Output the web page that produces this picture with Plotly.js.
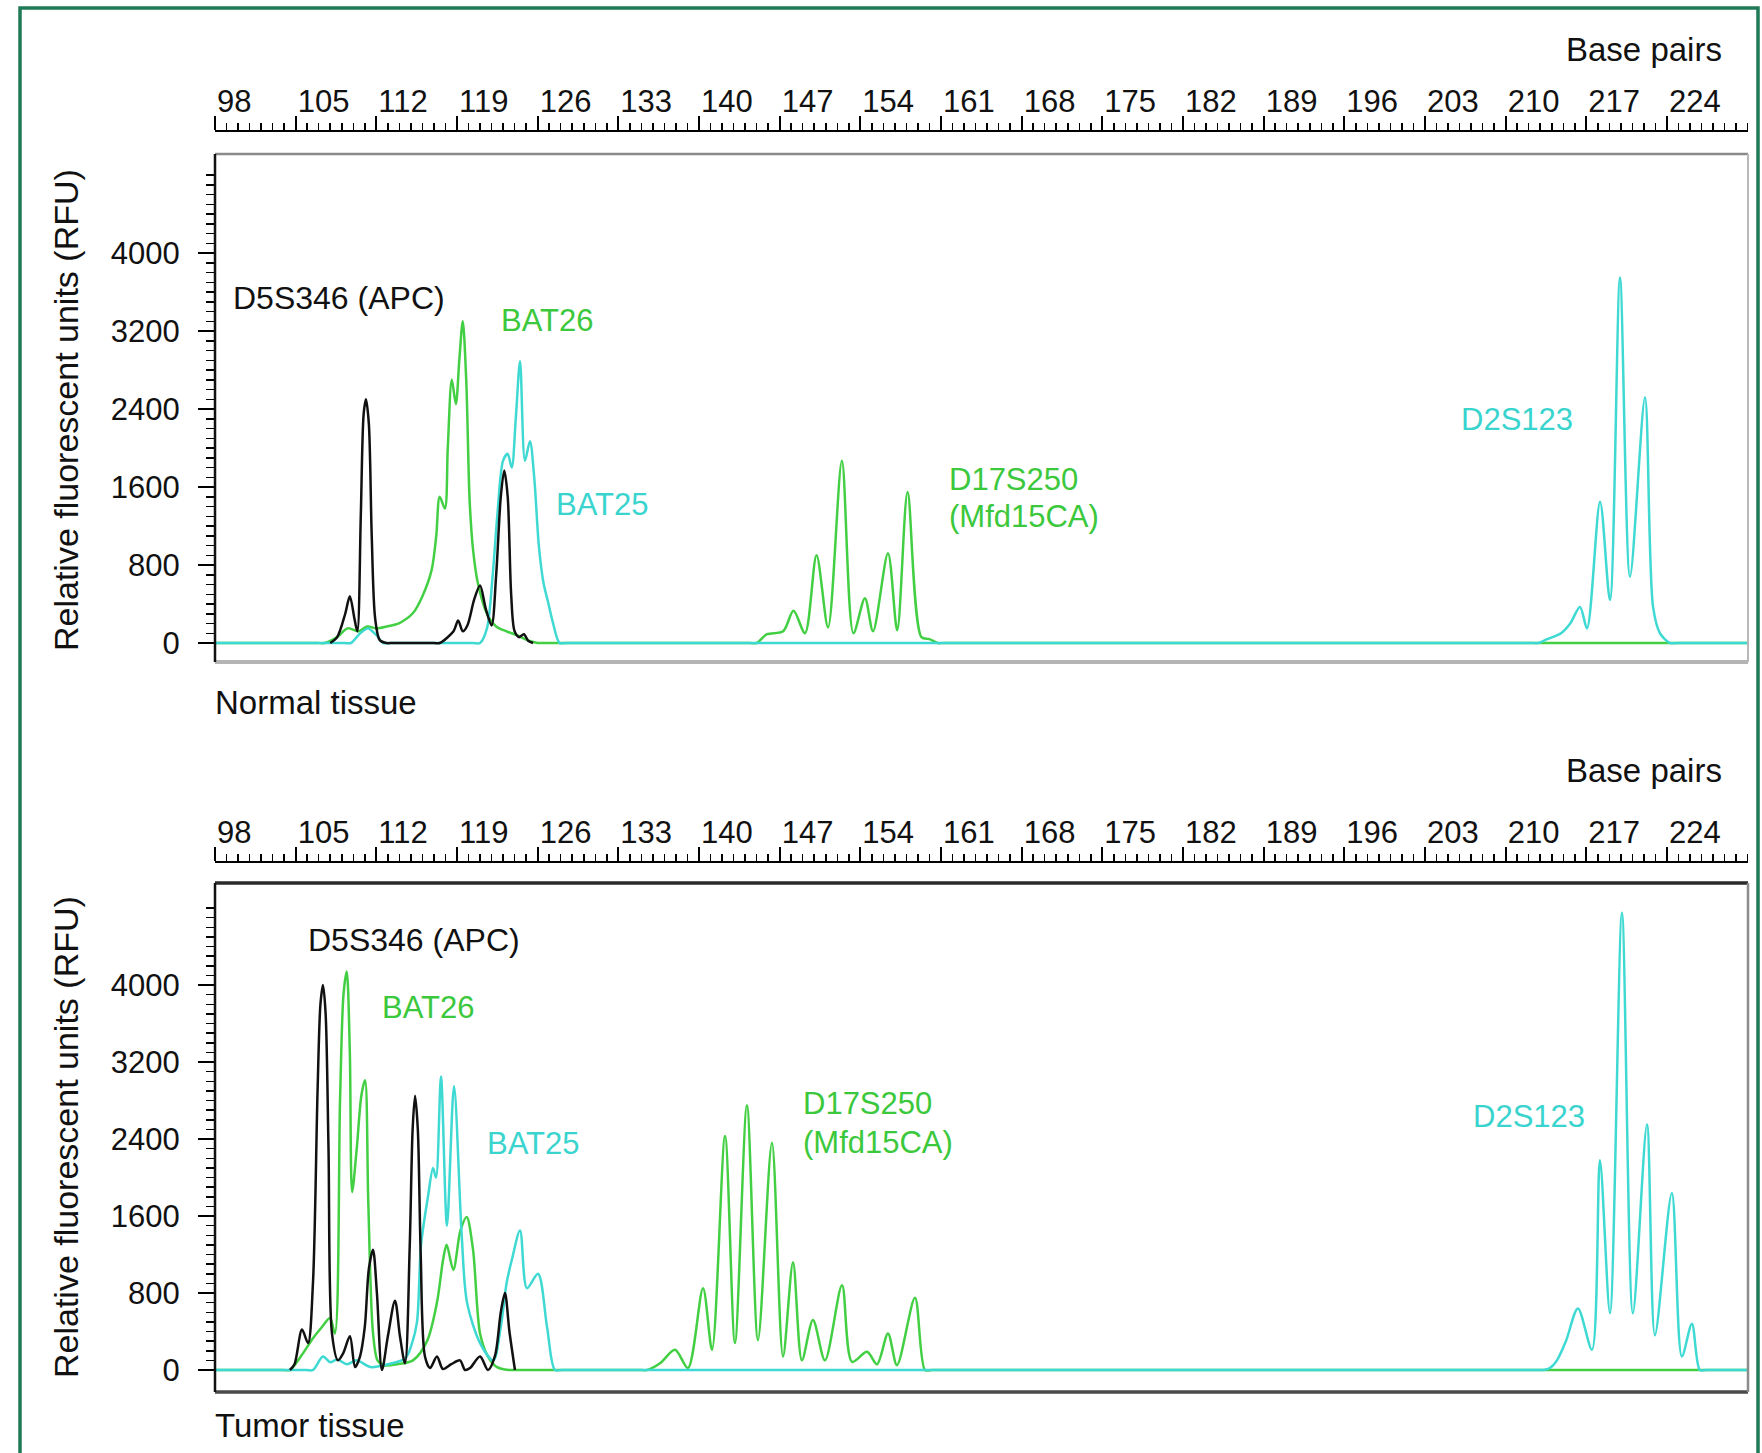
<!DOCTYPE html>
<html>
<head>
<meta charset="utf-8">
<script src="https://cdn.plot.ly/plotly-3.0.1.min.js"></script>
<style>html,body{margin:0;padding:0;background:#fff;}#chart{width:1762px;height:1453px;}</style>
</head>
<body>
<div id="chart"></div>
<script>
// ---------------- DATA (base pairs vs relative fluorescent units) ----------------
const BP_TICKS = [98,105,112,119,126,133,140,147,154,161,168,175,182,189,196,203,210,217,224];
const RFU_TICKS = [0,800,1600,2400,3200,4000,4800];
const RFU_LABELS = ['0','800','1600','2400','3200','4000',''];

// Normal tissue
const normal_black_x = [108.0,108.6,109.3,109.7,110.1,110.35,110.65,110.9,111.1,111.35,111.6,111.9,112.3,112.9,113.4,117.0,117.5,118.7,119.1,119.5,119.9,120.5,121.0,121.5,122.0,122.4,122.8,123.1,123.4,123.7,124.0,124.4,124.8,125.2,125.6];
const normal_black_y = [0,60,300,480,250,120,1300,2350,2500,2250,1100,250,30,0,0,0,0,120,230,120,180,450,590,350,180,700,1500,1770,1500,500,120,60,90,20,0];

const normal_green_x = [98,106.9,107.5,108.6,109.5,110.5,111.2,112.0,112.9,114.0,115.2,116.0,116.8,117.2,117.5,117.95,118.2,118.55,118.9,119.2,119.5,119.8,120.1,120.4,120.8,121.6,122.4,123.3,124.2,125.1,126.0,126.6,144.4,145.0,145.9,147.3,148.2,149.2,150.2,151.2,152.4,153.4,154.4,155.1,156.4,157.2,158.1,159.3,160.0,160.7,161.3,231];
const normal_green_y = [0,0,0,60,150,120,170,150,170,205,310,480,750,1100,1500,1380,2000,2700,2450,2900,3300,2700,1450,950,620,300,170,120,80,30,0,0,0,0,90,120,330,100,900,160,1870,100,460,120,920,130,1550,60,40,0,0,0];

const normal_cyan_x = [98,109.2,109.8,110.6,111.3,112.0,112.6,113.2,120.4,121.0,121.6,122.1,122.5,123.0,123.4,123.75,124.1,124.47,124.9,125.33,125.7,126.1,126.5,126.9,127.3,127.9,128.5,212.2,212.8,213.6,214.8,215.6,216.45,217.06,218.19,219.05,219.92,220.79,222.09,222.79,223.39,224.26,224.9,231];
const normal_cyan_y = [0,0,0,100,150,80,0,0,0,0,150,700,1310,1870,1940,1800,2300,2890,1870,2070,1700,1000,620,420,220,0,0,0,0,40,100,200,370,150,1450,440,3750,680,2520,370,100,0,0,0];

// Tumor tissue
const tumor_black_x = [104.5,104.9,105.55,106.07,106.5,106.9,107.15,107.37,107.6,107.85,108.15,108.67,109.11,109.71,110.15,110.58,111.0,111.35,111.71,112.05,112.49,113.0,113.62,114.05,114.49,114.9,115.15,115.36,115.6,115.85,116.22,116.66,117.26,117.78,118.5,119.26,119.7,120.13,121.0,121.69,122.3,122.8,123.16,123.55,124.03];
const tumor_black_y = [0,60,420,280,900,2900,3800,4000,3700,2300,380,100,170,350,30,140,450,1050,1250,800,0,350,720,350,70,1300,2500,2850,2500,1200,140,20,140,10,60,100,0,20,140,0,150,600,800,400,0];

const tumor_green_x = [98,103.9,104.5,105.5,106.5,107.3,107.98,108.4,108.85,109.15,109.43,109.7,109.9,110.3,110.7,111.02,111.3,111.7,112.1,112.6,113.8,115.18,116.4,117.26,117.8,118.1,118.68,119.3,119.84,120.39,121.0,121.69,122.47,123.5,124.1,134.2,134.8,135.49,136.62,137.92,139.04,140.35,141.13,142.26,143.12,144.16,145.12,146.33,147.29,148.16,148.93,149.89,150.93,152.41,153.28,154.58,155.45,156.4,157.18,158.74,159.61,160.2,231];
const tumor_green_y = [0,0,0,150,330,450,540,380,2800,3900,4140,3300,1850,2300,2850,3010,1750,400,100,50,60,100,300,700,1150,1300,1040,1450,1590,1250,380,140,30,0,0,0,0,0,70,210,20,850,210,2430,280,2750,310,2360,140,1120,100,520,100,880,85,190,60,380,50,750,0,0,0];

const tumor_cyan_x = [98,105.9,106.5,107.37,108.0,108.6,109.45,110.3,111.5,113.0,114.5,115.1,115.53,115.88,116.48,116.92,117.18,117.61,118.13,118.74,119.4,119.87,121.0,122.15,122.8,123.3,123.77,124.47,125.07,126.03,126.81,127.5,128.1,212.7,213.3,213.84,214.45,215.23,216.27,217.49,218.18,219.05,220.09,221.04,222.26,222.95,224.42,225.29,226.16,226.85,227.4,231];
const tumor_cyan_y = [0,0,0,140,80,110,60,100,30,60,120,280,500,1300,1800,2100,2000,3050,1500,2950,1420,700,280,100,450,900,1150,1450,850,1000,450,0,0,0,0,20,100,300,640,210,2180,590,4750,590,2550,360,1840,140,480,0,0,0];

// ---------------- LAYOUT HELPERS ----------------
const W = 1762, H = 1453;
const px = X => X / W;
const py = Y => 1 - Y / H;
const FONT = 'Liberation Sans, Arial, Helvetica, sans-serif';
const BLACK = '#111111', GREEN = '#43cf43', CYAN = '#3fd9d3';
const GREEN_TXT = '#3cc83c', CYAN_TXT = '#3ad4cf';

// panel geometry (pixels)
const P = [
  {ruler:132, boxTop:154, boxBot:662, zero:643, four:253, xa:'x', ya:'y'},
  {ruler:863, boxTop:883, boxBot:1392, zero:1370, four:985, xa:'x2', ya:'y2'}
];
const XL = 215, XR = 1748, BPPX = (1667 - 215) / 126; // px per bp
const xRange = [98, 98 + (XR - XL) / BPPX];
function yRange(p){ const s = 4000 / (p.zero - p.four); return [-(p.boxBot - p.zero) * s, (p.zero - p.ruler) * s]; }

const minorY = [];
for (let v = 0; v <= 4800; v += 100) minorY.push(v);

function xaxisCfg(p){
  return {
    domain:[px(XL), px(XR)], range:xRange, side:'top', anchor:p.ya,
    showline:true, linecolor:'#000', linewidth:2, mirror:false,
    ticks:'outside', ticklen:14, tickwidth:2, tickcolor:'#000',
    tickmode:'array', tickvals:BP_TICKS, ticktext:BP_TICKS.map(String),
    ticklabelposition:'outside right', ticklabelstandoff:6,
    tickfont:{family:FONT, size:31, color:'#111'},
    minor:{tickmode:'linear', tick0:98, dtick:1, ticks:'outside', ticklen:7, tickwidth:1.5, tickcolor:'#000', showgrid:false},
    showgrid:false, zeroline:false, fixedrange:true
  };
}
function yaxisCfg(p){
  return {
    domain:[py(p.boxBot), py(p.ruler)], range:yRange(p), anchor:p.xa,
    showline:false, ticks:'outside', ticklen:16, tickwidth:2, tickcolor:'#000',
    tickmode:'array', tickvals:RFU_TICKS, ticktext:RFU_LABELS, ticklabelstandoff:12,
    tickfont:{family:FONT, size:31, color:'#111'},
    minor:{tickmode:'array', tickvals:minorY, ticks:'outside', ticklen:8, tickwidth:1.5, tickcolor:'#000', showgrid:false},
    showgrid:false, zeroline:false, fixedrange:true
  };
}

function tr(x, y, color, p){
  return {x:x, y:y, type:'scatter', mode:'lines', xaxis:p.xa, yaxis:p.ya,
          line:{color:color, width:2.5, shape:'spline', smoothing:0.85}, hoverinfo:'skip'};
}

const data = [
  tr(normal_green_x, normal_green_y, GREEN, P[0]),
  tr(normal_cyan_x, normal_cyan_y, CYAN, P[0]),
  tr(normal_black_x, normal_black_y, BLACK, P[0]),
  tr(tumor_green_x, tumor_green_y, GREEN, P[1]),
  tr(tumor_cyan_x, tumor_cyan_y, CYAN, P[1]),
  tr(tumor_black_x, tumor_black_y, BLACK, P[1])
];

function hline(Y, x0, x1, color, w){ return {type:'line', xref:'paper', yref:'paper', x0:px(x0), x1:px(x1), y0:py(Y), y1:py(Y), line:{color:color, width:w}}; }
function vline(X, y0, y1, color, w){ return {type:'line', xref:'paper', yref:'paper', x0:px(X), x1:px(X), y0:py(y0), y1:py(y1), line:{color:color, width:w}}; }

const shapes = [
  // outer green frame (bottom edge lies below the picture)
  {type:'rect', xref:'paper', yref:'paper', x0:px(20), x1:px(1758), y0:py(1470), y1:py(8), line:{color:'#1f7a57', width:3.5}},
  // top panel box
  hline(154, XL, XR, '#8a8a8a', 2.5),
  hline(662, XL, XR, '#b4b4b4', 4),
  vline(XR, 154, 662, '#b8b8b8', 2),
  vline(XL, 154, 662, '#111', 2.5),
  // bottom panel box
  hline(883, XL, XR, '#2a2a2a', 3.5),
  hline(1392, XL, XR, '#4a4a4a', 3.5),
  vline(XR, 883, 1392, '#8c8c8c', 2.5),
  vline(XL, 883, 1392, '#111', 2.5)
];

function ann(text, X, Y, color, size, anchor, angle){
  return {text:text, xref:'paper', yref:'paper', x:px(X), y:py(Y), xanchor:anchor||'left', yanchor:'middle',
          showarrow:false, textangle:angle||0, font:{family:FONT, size:size, color:color}};
}

const annotations = [
  ann('Base pairs', 1724, 50, '#111', 33, 'right'),
  ann('Relative fluorescent units (RFU)', 66, 410, '#111', 34, 'center', -90),
  ann('D5S346 (APC)', 231, 298, '#111', 32),
  ann('BAT26', 499, 321, GREEN_TXT, 31),
  ann('BAT25', 554, 505, CYAN_TXT, 31),
  ann('D17S250', 947, 479, GREEN_TXT, 31),
  ann('(Mfd15CA)', 947, 516, GREEN_TXT, 31),
  ann('D2S123', 1459, 419, CYAN_TXT, 31),
  ann('Normal tissue', 213, 702, '#111', 33),

  ann('Base pairs', 1724, 770, '#111', 33, 'right'),
  ann('Relative fluorescent units (RFU)', 66, 1137, '#111', 34, 'center', -90),
  ann('D5S346 (APC)', 306, 940, '#111', 32),
  ann('BAT26', 380, 1008, GREEN_TXT, 31),
  ann('BAT25', 485, 1143, CYAN_TXT, 31),
  ann('D17S250', 801, 1103, GREEN_TXT, 31),
  ann('(Mfd15CA)', 801, 1142, GREEN_TXT, 31),
  ann('D2S123', 1471, 1116, CYAN_TXT, 31),
  ann('Tumor tissue', 213, 1425, '#111', 33)
];

const layout = {
  width:W, height:H, margin:{l:0, r:0, t:0, b:0},
  paper_bgcolor:'#ffffff', plot_bgcolor:'#ffffff',
  showlegend:false, hovermode:false,
  font:{family:FONT, color:'#111'},
  xaxis:xaxisCfg(P[0]), yaxis:yaxisCfg(P[0]),
  xaxis2:xaxisCfg(P[1]), yaxis2:yaxisCfg(P[1]),
  shapes:shapes, annotations:annotations
};

Plotly.newPlot('chart', data, layout, {staticPlot:true, displayModeBar:false});
</script>
</body>
</html>
